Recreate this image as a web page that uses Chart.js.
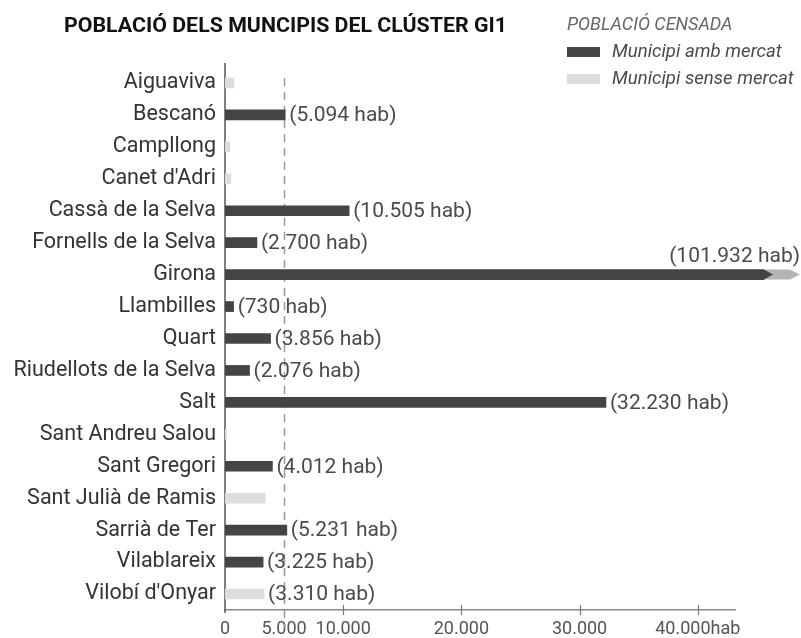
<!DOCTYPE html>
<html>
<head>
<meta charset="utf-8">
<script src="https://cdn.jsdelivr.net/npm/chart.js@4.4.1/dist/chart.umd.min.js"></script>
<style>
  html, body { margin: 0; padding: 0; background: #fff; }
  #grafic { display: block; }
</style>
</head>
<body>
<canvas id="grafic" width="801" height="638"></canvas>
<script>
// Població censada per municipi del clúster GI1
const municipis = [
  "Aiguaviva", "Bescanó", "Campllong", "Canet d'Adri", "Cassà de la Selva",
  "Fornells de la Selva", "Girona", "Llambilles", "Quart", "Riudellots de la Selva",
  "Salt", "Sant Andreu Salou", "Sant Gregori", "Sant Julià de Ramis",
  "Sarrià de Ter", "Vilablareix", "Vilobí d'Onyar"
];
const ambMercat = [null, 5094, null, null, 10505, 2700, 101932, 730, 3856, 2076, 32230, null, 4012, null, 5231, 3225, null];
const senseMercat = [760, null, 420, 500, null, null, null, null, null, null, null, 150, null, 3400, null, null, 3310];
// quins municipis porten l'etiqueta de valor
const ambEtiqueta = [false, true, false, false, true, true, true, true, true, true, true, false, true, false, true, true, true];
const xTicks = [0, 5000, 10000, 20000, 30000, 40000];
const xMax = 43150;
const liniaRef = 5000;

const FONT = "Roboto, 'Open Sans', sans-serif";
const FOSC = "#444444";
const CLAR = "#dddddd";

function milers(v) {
  return String(v).replace(/\B(?=(\d{3})+(?!\d))/g, ".");
}

const decoracio = {
  id: "decoracio",
  beforeDatasetsDraw(chart) {
    const { ctx, chartArea, scales } = chart;
    const x5 = Math.round(scales.x.getPixelForValue(liniaRef)) + 0.5;
    ctx.save();
    // línia discontínua de referència
    ctx.strokeStyle = "#9a9a9a";
    ctx.lineWidth = 1.5;
    ctx.setLineDash([8, 6]);
    ctx.beginPath();
    ctx.moveTo(x5, 78);
    ctx.lineTo(x5, 628);
    ctx.stroke();
    ctx.setLineDash([]);
    // eix vertical
    ctx.strokeStyle = "#555";
    ctx.lineWidth = 1.5;
    ctx.beginPath();
    ctx.moveTo(chartArea.left, 63);
    ctx.lineTo(chartArea.left, 613);
    ctx.stroke();
    // marques de l'eix X
    ctx.strokeStyle = "#777";
    ctx.lineWidth = 1.2;
    xTicks.filter(t => t >= 10000).forEach(t => {
      const px = Math.round(scales.x.getPixelForValue(t)) + 0.5;
      ctx.beginPath();
      ctx.moveTo(px, chartArea.bottom - 5);
      ctx.lineTo(px, chartArea.bottom + 5);
      ctx.stroke();
    });
    ctx.restore();
  },
  afterDatasetsDraw(chart) {
    const { ctx } = chart;
    ctx.save();
    ctx.font = "21px " + FONT;
    ctx.fillStyle = "#4a4a4a";
    ctx.textBaseline = "middle";
    chart.data.datasets.forEach((ds, di) => {
      const meta = chart.getDatasetMeta(di);
      meta.data.forEach((bar, i) => {
        const v = ds.data[i];
        if (v == null) return;
        if (v > xMax) {
          // barra tallada: punta de fletxa
          const h = 10, top = bar.y - h / 2, bot = bar.y + h / 2;
          const x0 = 764;
          ctx.fillStyle = "#fff";
          ctx.fillRect(x0, top - 1, 801 - x0, h + 2);
          ctx.fillStyle = "#b4b4b4";
          ctx.beginPath();
          ctx.moveTo(x0, top);
          ctx.lineTo(790, top);
          ctx.lineTo(800, bar.y);
          ctx.lineTo(790, bot);
          ctx.lineTo(x0, bot);
          ctx.closePath();
          ctx.fill();
          ctx.fillStyle = FOSC;
          ctx.beginPath();
          ctx.moveTo(x0, top);
          ctx.lineTo(773, bar.y);
          ctx.lineTo(x0, bot);
          ctx.closePath();
          ctx.fill();
          if (ambEtiqueta[i]) {
            ctx.fillStyle = "#4a4a4a";
            ctx.textAlign = "right";
            ctx.fillText("(" + milers(v) + " hab)", 800, bar.y - 18);
          }
          return;
        }
        if (!ambEtiqueta[i]) return;
        ctx.fillStyle = "#4a4a4a";
        ctx.textAlign = "left";
        ctx.fillText("(" + milers(v) + " hab)", bar.x + 4, bar.y + 1);
      });
    });
    ctx.restore();
  },
  afterDraw(chart) {
    const { ctx } = chart;
    ctx.save();
    // títol
    ctx.fillStyle = "#111";
    ctx.font = "bold 20px " + FONT;
    ctx.textBaseline = "alphabetic";
    ctx.textAlign = "left";
    const titol = "POBLACIÓ DELS MUNCIPIS DEL CLÚSTER GI1";
    const w = ctx.measureText(titol).width;
    ctx.translate(64, 32);
    ctx.scale(443 / w, 1);
    ctx.fillText(titol, 0, 0);
    ctx.restore();

    // llegenda
    ctx.save();
    ctx.textBaseline = "middle";
    ctx.font = "italic 18px " + FONT;
    ctx.fillStyle = "#666";
    ctx.fillText("POBLACIÓ CENSADA", 567, 25);
    ctx.font = "italic 18.6px " + FONT;
    chart.data.datasets.forEach((ds, i) => {
      const y = 52 + i * 27;
      ctx.fillStyle = ds.backgroundColor;
      ctx.fillRect(567, y - 5, 33, 10);
      ctx.fillStyle = "#4a4a4a";
      ctx.fillText(ds.label, 612, y);
    });
    ctx.restore();
  }
};

new Chart(document.getElementById("grafic"), {
  type: "bar",
  data: {
    labels: municipis,
    datasets: [
      {
        label: "Municipi amb mercat",
        data: ambMercat,
        backgroundColor: FOSC,
        barThickness: 10,
        grouped: false,
        clip: { left: 0, top: 0, right: 40, bottom: 0 }
      },
      {
        label: "Municipi sense mercat",
        data: senseMercat,
        backgroundColor: CLAR,
        barThickness: 10,
        grouped: false
      }
    ]
  },
  options: {
    indexAxis: "y",
    responsive: false,
    maintainAspectRatio: false,
    animation: false,
    layout: { padding: { top: 67, right: 66, bottom: 0, left: 0 } },
    scales: {
      x: {
        min: 0,
        max: xMax,
        afterBuildTicks(scale) {
          scale.ticks = xTicks.map(v => ({ value: v }));
        },
        afterFit(scale) { scale.height = 28; },
        grid: { display: false, drawTicks: false },
        border: { display: true, color: "#888", width: 1.5 },
        ticks: {
          padding: 9,
          maxRotation: 0,
          autoSkip: false,
          color: "#555",
          font: { family: FONT, size: 18 },
          callback: v => milers(v) + (v === 40000 ? "hab" : "")
        }
      },
      y: {
        afterFit(scale) { scale.width = 225; },
        grid: { display: false, drawTicks: false },
        border: { display: false },
        ticks: {
          padding: 9,
          autoSkip: false,
          color: "#333",
          font: { family: FONT, size: 21.5 }
        }
      }
    },
    plugins: {
      legend: { display: false },
      title: { display: false },
      tooltip: { enabled: false }
    }
  },
  plugins: [decoracio]
});
</script>
</body>
</html>
